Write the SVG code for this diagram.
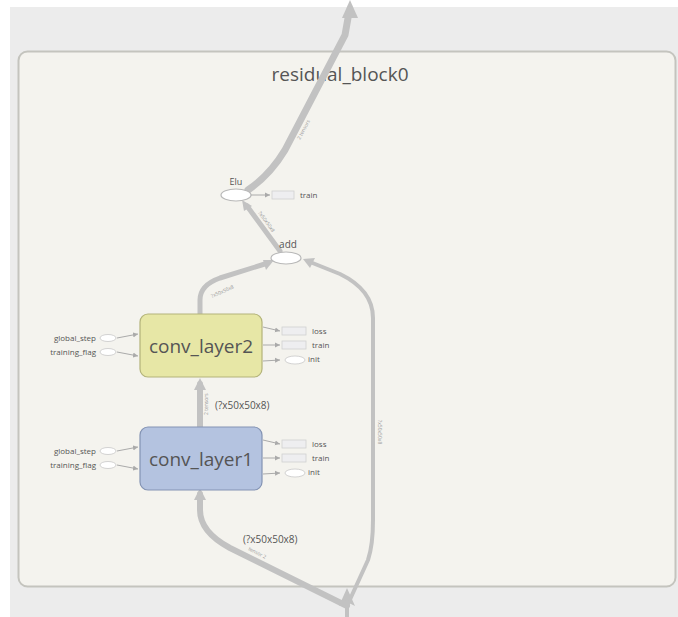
<svg xmlns="http://www.w3.org/2000/svg" width="678" height="617" viewBox="0 0 678 617">
<style>
text{font-family:"Open Sans","Liberation Sans",sans-serif;fill:#555}
.e{fill:none;stroke:#c2c2c2;stroke-linecap:round;stroke-linejoin:round}
.s{fill:none;stroke:#aaa;stroke-width:1}
.ah{fill:#c2c2c2}
.sm{font-size:8px;fill:#555}
.lbl{font-size:5px;fill:#999}
.port{fill:#eeeef0;stroke:#d0d0d0;stroke-width:0.8}
.ov{fill:#fff;stroke:#c8c8c8;stroke-width:0.8}
</style>
<defs>
<marker id="sa" markerWidth="6" markerHeight="6" refX="5" refY="3" orient="auto" markerUnits="userSpaceOnUse"><path d="M0,0.5 L5,3 L0,5.5 Z" fill="#aaa"/></marker>
</defs>
<rect x="0" y="0" width="678" height="617" fill="#fff"/>
<rect x="10" y="7" width="668" height="610" fill="#ececec"/>
<g id="residual_block0">
<rect x="18.5" y="51.5" width="657" height="535" rx="9" fill="#f4f3ee" stroke="#c4c4be" stroke-width="2"/>
<text x="340" y="81" font-size="19" text-anchor="middle" fill="#555">residual_block0</text>
</g>
<g id="connectors">
<path class="e" stroke-width="6" d="M347,606 L230,548 Q200,532 200,510 L200,494"/>
<path class="ah" d="M200,488 L206,500 L194,500 Z"/>
<path class="e" stroke-width="4" d="M347,606 L368,560 Q373,545 373,520 L373,318 Q373,290 340,274 L310,262"/>
<path class="ah" d="M303,259 L315,258 L310,268 Z"/>
<path class="ah" d="M347,588 L355,606 L347,602 L339,606 Z"/>
<path class="e" stroke-width="4" d="M347,602 L347,617"/>
<path class="e" stroke-width="6" d="M200,427 L200,384"/>
<path class="ah" d="M200,378 L206,390 L194,390 Z"/>
<path class="e" stroke-width="5" d="M200,314 L200,300 Q200,285 220,278 L268,263"/>
<path class="ah" d="M274,260 L266,270 L263,260 Z"/>
<path class="e" stroke-width="5" d="M280,251 L247,206"/>
<path class="ah" d="M242,200 L252,206 L244,211 Z"/>
<path class="e" stroke-width="7" d="M248,190 Q270,175 285,150 L345,35 L348,18"/>
<path class="ah" d="M350,0 L358,18 L342,18 Z"/>
<text class="lbl" transform="translate(300,140) rotate(-62)">2 tensors</text>
<text class="lbl" transform="translate(258,213) rotate(54)">?x50x50x8</text>
<text class="lbl" transform="translate(212,298) rotate(-24)">?x50x50x8</text>
<text class="lbl" transform="translate(208,415) rotate(-90)">2 tensors</text>
<text class="lbl" transform="translate(378,420) rotate(90)">?x50x50x8</text>
<text class="lbl" transform="translate(248,550) rotate(27)">tensor 2</text>
</g>
<g id="Elu">
<ellipse cx="236" cy="195" rx="15" ry="6" fill="#fff" stroke="#b8b8b8" stroke-width="1.2"/>
<text x="236" y="185" font-size="9" text-anchor="middle">Elu</text>
<path class="s" d="M251,195 L270,195" marker-end="url(#sa)"/>
<rect class="port" x="272" y="191" width="22" height="8"/>
<text class="sm" x="300" y="198">train</text>
</g>
<g id="add">
<ellipse cx="286" cy="258" rx="15" ry="6" fill="#fff" stroke="#b8b8b8" stroke-width="1.2"/>
<text x="288" y="248" font-size="10" text-anchor="middle">add</text>
</g>
<g id="conv_layer2">
<rect x="140" y="314" width="122" height="63" rx="8" fill="#e7e7a6" stroke="#b3b37a" stroke-width="1.2"/>
<text x="201" y="353" font-size="19" text-anchor="middle">conv_layer2</text>
<text class="sm" x="96" y="341" text-anchor="end">global_step</text>
<text class="sm" x="96" y="355" text-anchor="end">training_flag</text>
<ellipse class="ov" cx="108" cy="338" rx="8" ry="3.5"/>
<ellipse class="ov" cx="108" cy="352" rx="8" ry="3.5"/>
<path class="s" d="M117,338 L138,334" marker-end="url(#sa)"/>
<path class="s" d="M117,352 L138,356" marker-end="url(#sa)"/>
<path class="s" d="M263,327 L280,331" marker-end="url(#sa)"/>
<path class="s" d="M263,345 L280,345" marker-end="url(#sa)"/>
<path class="s" d="M263,361 L280,360" marker-end="url(#sa)"/>
<rect class="port" x="282" y="327" width="24" height="8"/>
<rect class="port" x="282" y="341" width="24" height="8"/>
<ellipse class="ov" cx="295" cy="360" rx="10" ry="4"/>
<text class="sm" x="312" y="334">loss</text>
<text class="sm" x="312" y="348">train</text>
<text class="sm" x="308" y="362">init</text>
</g>
<g id="conv_layer1">
<rect x="140" y="427" width="122" height="63" rx="8" fill="#b4c3e0" stroke="#8393b3" stroke-width="1.2"/>
<text x="201" y="466" font-size="19" text-anchor="middle">conv_layer1</text>
<text class="sm" x="96" y="454" text-anchor="end">global_step</text>
<text class="sm" x="96" y="468" text-anchor="end">training_flag</text>
<ellipse class="ov" cx="108" cy="451" rx="8" ry="3.5"/>
<ellipse class="ov" cx="108" cy="465" rx="8" ry="3.5"/>
<path class="s" d="M117,451 L138,447" marker-end="url(#sa)"/>
<path class="s" d="M117,465 L138,469" marker-end="url(#sa)"/>
<path class="s" d="M263,440 L280,444" marker-end="url(#sa)"/>
<path class="s" d="M263,458 L280,458" marker-end="url(#sa)"/>
<path class="s" d="M263,474 L280,473" marker-end="url(#sa)"/>
<rect class="port" x="282" y="440" width="24" height="8"/>
<rect class="port" x="282" y="454" width="24" height="8"/>
<ellipse class="ov" cx="295" cy="473" rx="10" ry="4"/>
<text class="sm" x="312" y="447">loss</text>
<text class="sm" x="312" y="461">train</text>
<text class="sm" x="308" y="475">init</text>
</g>
<text x="215" y="409" font-size="10" fill="#444">(?x50x50x8)</text>
<text x="243" y="543" font-size="10" fill="#444">(?x50x50x8)</text>
</svg>
